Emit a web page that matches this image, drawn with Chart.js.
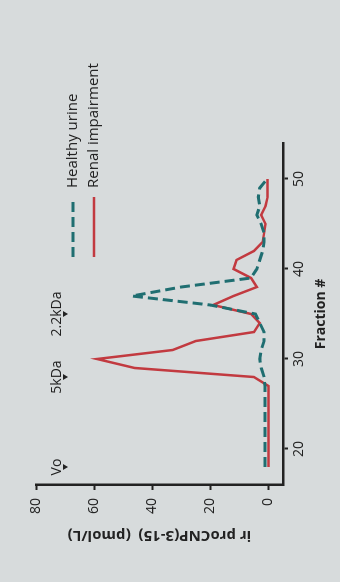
<!DOCTYPE html>
<html>
<head>
<meta charset="utf-8">
<script src="https://cdn.jsdelivr.net/npm/chart.js@4/dist/chart.umd.min.js"></script>
<style>
  html, body { margin: 0; padding: 0; width: 340px; height: 582px; overflow: hidden; background: #d7dbdc; }
  #wrap {
    position: absolute; left: 0; top: 0; width: 582px; height: 340px;
    transform-origin: 0 0; transform: translate(0, 582px) rotate(-90deg);
  }
</style>
</head>
<body>
<div id="wrap"><canvas id="chart" width="582" height="340"></canvas></div>
<script>
const fractions = [18, 19, 20, 21, 22, 23, 24, 25, 26, 27, 28, 29, 30, 31, 32, 33, 34,
  35, 36, 37, 38, 39, 40, 41, 42, 43, 44, 45, 46, 47, 48, 49, 50];
const healthyUrine = [1.2, 1.2, 1.2, 1.2, 1.2, 1.2, 1.2, 1.2, 1.2, 1.2, 1.5, 2.5, 3, 2.5, 1.5, 1.5, 3,
  4.5, 20, 47, 30, 6, 4, 3, 2, 1.5, 1.5, 2.5, 4, 3, 3.5, 3, 0.5];
const renalImpairment = [0, 0, 0, 0, 0, 0, 0, 0, 0, 0, 5, 46, 59, 33, 25, 5, 3,
  6, 19, 12, 4, 6, 12, 11, 5, 2, 1.5, 1, 2.5, 1, 0.3, 0.3, 0.3];
const xTicks = [20, 30, 40, 50];
const yTicks = [0, 20, 40, 60, 80];
const markerLabels = ['Vo', '5kDa', '2.2kDa'];
const markerFractions = [18, 28, 35];

const ink = '#222';
const teal = '#1f6e71';
const red = '#c23a40';

Chart.defaults.font.family = "'Open Sans', sans-serif";
Chart.defaults.color = ink;

// size markers above the plot (Vo, 5kDa, 2.2kDa)
const markers = {
  id: 'markers',
  afterDraw(chart) {
    const {ctx, scales: {x}} = chart;
    ctx.save();
    ctx.fillStyle = ink;
    ctx.font = "14px 'Open Sans'";
    ctx.textAlign = 'center';
    ctx.textBaseline = 'alphabetic';
    markerFractions.forEach((f, i) => {
      const px = x.getPixelForValue(f);
      ctx.fillText(markerLabels[i], px, 61);
      ctx.beginPath();
      ctx.moveTo(px - 3, 63);
      ctx.lineTo(px + 3, 63);
      ctx.lineTo(px, 68);
      ctx.closePath();
      ctx.fill();
    });
    ctx.restore();
  }
};

// legend at top right
const sideLegend = {
  id: 'sideLegend',
  afterDraw(chart) {
    const {ctx} = chart;
    ctx.save();
    ctx.font = "15px 'Open Sans'";
    ctx.textBaseline = 'middle';
    ctx.fillStyle = ink;
    [73, 94].forEach((y, i) => {
      const ds = chart.data.datasets[i];
      ctx.strokeStyle = ds.borderColor;
      ctx.lineWidth = ds.borderWidth;
      ctx.setLineDash(ds.borderDash || []);
      ctx.beginPath();
      ctx.moveTo(325, y);
      ctx.lineTo(385, y);
      ctx.stroke();
      ctx.fillText(ds.label, 394, y);
    });
    ctx.restore();
  }
};

new Chart(document.getElementById('chart'), {
  type: 'line',
  data: {
    datasets: [
      {
        label: 'Healthy urine',
        data: fractions.map((f, i) => ({x: f, y: healthyUrine[i]})),
        borderColor: teal,
        borderWidth: 3,
        borderDash: [10, 5],
        pointRadius: 0,
        tension: 0,
        fill: false
      },
      {
        label: 'Renal impairment',
        data: fractions.map((f, i) => ({x: f, y: renalImpairment[i]})),
        borderColor: red,
        borderWidth: 2.5,
        pointRadius: 0,
        tension: 0,
        fill: false
      }
    ]
  },
  options: {
    responsive: false,
    animation: false,
    devicePixelRatio: 1,
    layout: {padding: {left: 0, top: 36, right: 143, bottom: 0}},
    plugins: {legend: {display: false}, tooltip: {enabled: false}},
    scales: {
      x: {
        type: 'linear',
        min: 16,
        max: 54,
        afterBuildTicks: (s) => { s.ticks = xTicks.map(v => ({value: v})); },
        afterFit: (s) => { s.height = 57; },
        border: {display: true, color: ink, width: 2.5},
        grid: {drawOnChartArea: false, drawTicks: true, tickLength: 5, tickColor: ink, tickWidth: 2},
        ticks: {font: {size: 14}, padding: 3, maxRotation: 0},
        title: {display: true, text: 'Fraction #', font: {size: 14, weight: 'bold'}, padding: {top: 0, bottom: 11}}
      },
      y: {
        min: -5,
        max: 80,
        afterBuildTicks: (s) => { s.ticks = yTicks.map(v => ({value: v})); },
        afterFit: (s) => { s.width = 97; },
        border: {display: true, color: ink, width: 2.5},
        grid: {drawOnChartArea: false, drawTicks: true, tickLength: 5, tickColor: ink, tickWidth: 2},
        ticks: {font: {size: 14}, padding: 8},
        title: {display: true, text: 'ir proCNP(3-15)  (pmol/L)', font: {size: 15, weight: 'bold'}, padding: {top: 38, bottom: 0}}
      }
    }
  },
  plugins: [markers, sideLegend]
});
</script>
</body>
</html>
